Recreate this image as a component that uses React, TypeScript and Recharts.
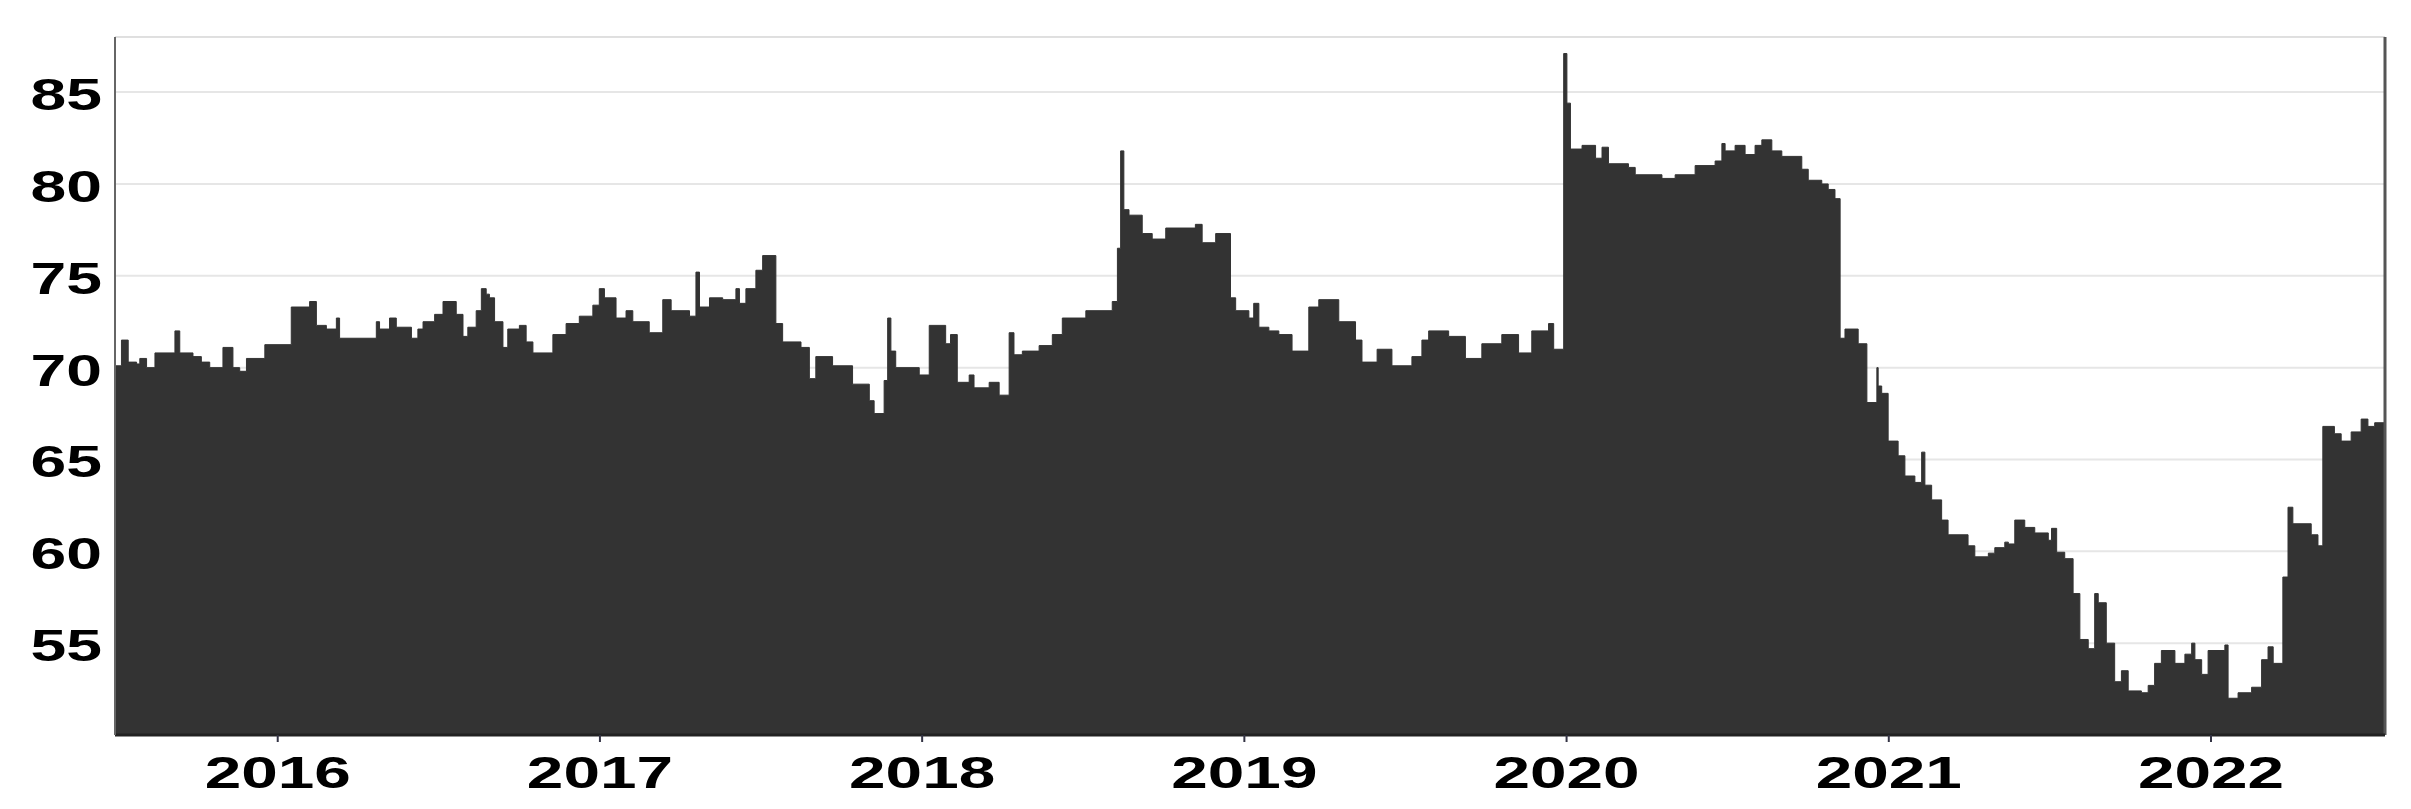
import React from 'react';
import { AreaChart, Area, XAxis, YAxis, CartesianGrid, ReferenceLine } from 'recharts';

// week positions as decimal years, with the value that holds from there on
const weekPos = [
  2015.495, 2015.515, 2015.536, 2015.562, 2015.572, 2015.593, 2015.619, 2015.681, 2015.696, 2015.737,
  2015.763, 2015.789, 2015.830, 2015.861, 2015.882, 2015.903, 2015.960, 2016.042, 2016.099, 2016.120,
  2016.151, 2016.182, 2016.192, 2016.306, 2016.316, 2016.347, 2016.368, 2016.415, 2016.435, 2016.451,
  2016.487, 2016.513, 2016.554, 2016.575, 2016.590, 2016.616, 2016.632, 2016.647, 2016.657, 2016.673,
  2016.699, 2016.714, 2016.750, 2016.771, 2016.792, 2016.854, 2016.895, 2016.936, 2016.978, 2016.998,
  2017.014, 2017.050, 2017.081, 2017.102, 2017.153, 2017.195, 2017.221, 2017.278, 2017.298, 2017.309,
  2017.340, 2017.381, 2017.422, 2017.433, 2017.453, 2017.484, 2017.505, 2017.546, 2017.567, 2017.624,
  2017.650, 2017.670, 2017.722, 2017.784, 2017.836, 2017.851, 2017.882, 2017.893, 2017.903, 2017.918,
  2017.991, 2018.022, 2018.073, 2018.088, 2018.109, 2018.146, 2018.161, 2018.208, 2018.239, 2018.270,
  2018.285, 2018.311, 2018.363, 2018.404, 2018.435, 2018.508, 2018.590, 2018.606, 2018.616, 2018.626,
  2018.642, 2018.683, 2018.714, 2018.756, 2018.848, 2018.869, 2018.911, 2018.957, 2018.973, 2019.014,
  2019.029, 2019.045, 2019.076, 2019.107, 2019.148, 2019.200, 2019.231, 2019.293, 2019.345, 2019.365,
  2019.412, 2019.458, 2019.520, 2019.551, 2019.572, 2019.634, 2019.686, 2019.737, 2019.799, 2019.851,
  2019.892, 2019.944, 2019.960, 2019.991, 2020.001, 2020.012, 2020.048, 2020.090, 2020.110, 2020.130,
  2020.192, 2020.213, 2020.296, 2020.337, 2020.399, 2020.461, 2020.482, 2020.492, 2020.523, 2020.554,
  2020.585, 2020.606, 2020.637, 2020.668, 2020.730, 2020.750, 2020.792, 2020.812, 2020.833, 2020.849,
  2020.864, 2020.905, 2020.932, 2020.963, 2020.967, 2020.978, 2020.998, 2021.029, 2021.050, 2021.081,
  2021.102, 2021.112, 2021.133, 2021.164, 2021.184, 2021.246, 2021.267, 2021.309, 2021.329, 2021.360,
  2021.371, 2021.391, 2021.422, 2021.453, 2021.495, 2021.505, 2021.521, 2021.546, 2021.572, 2021.593,
  2021.619, 2021.639, 2021.650, 2021.675, 2021.701, 2021.722, 2021.743, 2021.784, 2021.805, 2021.825,
  2021.846, 2021.888, 2021.919, 2021.940, 2021.950, 2021.971, 2021.991, 2022.043, 2022.053, 2022.084,
  2022.126, 2022.157, 2022.177, 2022.193, 2022.223, 2022.239, 2022.254, 2022.311, 2022.332, 2022.347,
  2022.383, 2022.404, 2022.435, 2022.466, 2022.487, 2022.508, 2022.540,
];

const price = [
  70.1, 71.5, 70.3, 70.2, 70.5, 70.0, 70.8, 72.0, 70.8, 70.6,
  70.3, 70.0, 71.1, 70.0, 69.8, 70.5, 71.25, 73.3, 73.6, 72.3,
  72.1, 72.7, 71.6, 72.5, 72.1, 72.7, 72.2, 71.6, 72.1, 72.5,
  72.9, 73.6, 72.9, 71.7, 72.2, 73.1, 74.3, 74.0, 73.8, 72.5,
  71.1, 72.1, 72.3, 71.4, 70.8, 71.8, 72.4, 72.8, 73.4, 74.3,
  73.8, 72.7, 73.1, 72.5, 71.9, 73.7, 73.1, 72.8, 75.2, 73.3,
  73.8, 73.7, 74.3, 73.5, 74.3, 75.3, 76.1, 72.4, 71.4, 71.1,
  69.4, 70.6, 70.1, 69.1, 68.2, 67.5, 69.3, 72.7, 70.9, 70.0,
  69.6, 72.3, 71.3, 71.8, 69.2, 69.6, 68.9, 69.2, 68.5, 71.9,
  70.7, 70.9, 71.2, 71.8, 72.7, 73.1, 73.6, 76.5, 81.8, 78.6,
  78.3, 77.3, 77.0, 77.6, 77.8, 76.8, 77.3, 73.8, 73.1, 72.7,
  73.5, 72.2, 72.0, 71.8, 70.9, 73.3, 73.7, 72.5, 71.5, 70.3,
  71.0, 70.1, 70.6, 71.5, 72.0, 71.7, 70.5, 71.3, 71.8, 70.8,
  72.0, 72.4, 71.0, 87.1, 84.4, 81.9, 82.1, 81.4, 82.0, 81.1,
  80.9, 80.5, 80.3, 80.5, 81.0, 81.25, 82.2, 81.8, 82.1, 81.6,
  82.1, 82.4, 81.8, 81.5, 80.8, 80.2, 80.0, 79.7, 79.2, 71.6,
  72.1, 71.3, 68.1, 70.0, 69.0, 68.6, 66.0, 65.2, 64.1, 63.75,
  65.4, 63.6, 62.8, 61.7, 60.9, 60.3, 59.7, 59.9, 60.2, 60.5,
  60.4, 61.7, 61.3, 61.0, 60.6, 61.25, 59.95, 59.6, 57.7, 55.2,
  54.7, 57.7, 57.2, 55.0, 52.9, 53.5, 52.4, 52.3, 52.7, 53.9,
  54.6, 53.9, 54.4, 55.0, 54.1, 53.3, 54.6, 54.9, 52.0, 52.3,
  52.6, 54.1, 54.8, 53.9, 58.6, 62.4, 61.5, 60.9, 60.3, 66.8,
  66.4, 66.0, 66.5, 67.2, 66.8, 67.0, 67.0,
];

const yearTicks = [2016, 2017, 2018, 2019, 2020, 2021, 2022];
const valueTicks = [55, 60, 65, 70, 75, 80, 85];

const data = weekPos.map((t, i) => ({ t, v: price[i] }));

const FONT = '"Liberation Sans", Arial, Helvetica, sans-serif';

const XTick = ({ x, y, payload }: any) => (
  <g transform={`translate(${x},${y})`}>
    <text transform="scale(1.46,1)" textAnchor="middle" dy={44} fontSize={45} fontWeight={700} fill="#000" fontFamily={FONT}>
      {payload.value}
    </text>
  </g>
);

const YTick = ({ x, y, payload }: any) => (
  <g transform={`translate(${x},${y})`}>
    <text transform="scale(1.46,1)" textAnchor="end" dy={18} fontSize={44} fontWeight={700} fill="#000" fontFamily={FONT}>
      {payload.value}
    </text>
  </g>
);

export default function App() {
  return (
    <div style={{ position: 'absolute', left: 0, top: 0, background: '#fff' }}>
      <AreaChart width={2411} height={809} data={data} margin={{ top: 37, right: 26, bottom: 0, left: 0 }}>
        <CartesianGrid vertical={false} stroke="#e6e6e6" strokeWidth={2} />
        <XAxis
          dataKey="t"
          type="number"
          domain={[2015.495, 2022.54]}
          allowDataOverflow
          ticks={yearTicks}
          height={74}
          tick={<XTick />}
          tickSize={7}
          tickMargin={2}
          tickLine={{ stroke: '#334', strokeWidth: 2 }}
          axisLine={{ stroke: '#222', strokeWidth: 3 }}
        />
        <YAxis
          type="number"
          domain={[50, 88]}
          allowDataOverflow
          ticks={valueTicks}
          width={115}
          tick={<YTick />}
          tickSize={0}
          tickMargin={13}
          tickLine={false}
          axisLine={{ stroke: '#666', strokeWidth: 2 }}
        />
        <Area
          type="stepAfter"
          dataKey="v"
          baseValue={50}
          stroke="#333"
          strokeWidth={1}
          fill="#333"
          fillOpacity={1}
          isAnimationActive={false}
          dot={false}
          activeDot={false}
        />
        <ReferenceLine y={88} stroke="#d9d9d9" strokeWidth={1} />
        <ReferenceLine x={2022.54} stroke="#555" strokeWidth={3} />
      </AreaChart>
    </div>
  );
}
